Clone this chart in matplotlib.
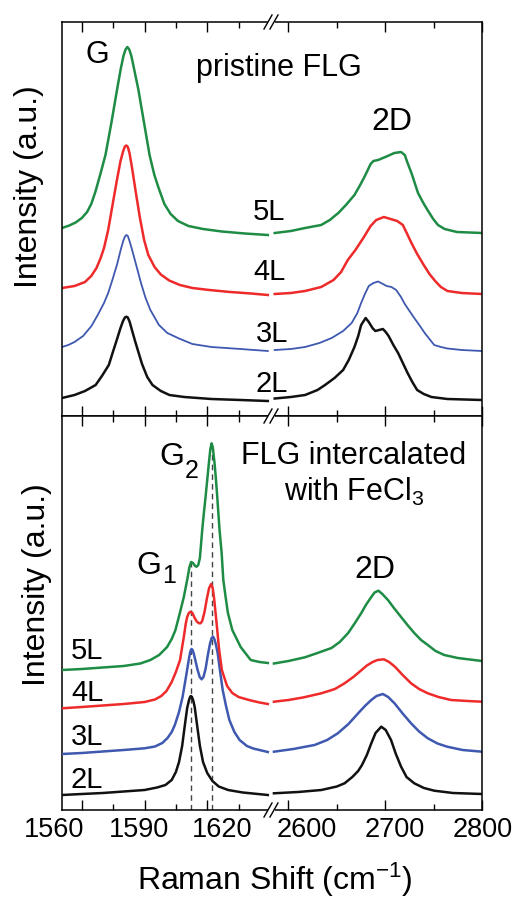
import matplotlib
matplotlib.use("Agg")
import matplotlib.pyplot as plt
from matplotlib.lines import Line2D
from matplotlib.patches import Rectangle
from matplotlib.transforms import ScaledTranslation

plt.rcParams["font.family"] = ["Liberation Sans", "DejaVu Sans"]
plt.rcParams["mathtext.fontset"] = "custom"
plt.rcParams["mathtext.rm"] = "Liberation Sans"
plt.rcParams["mathtext.it"] = "Liberation Sans:italic"

# ---- data (arbitrary intensity units) ----
LAYERS = ["2L", "3L", "4L", "5L"]
COLORS = ["#111111", "#3f58b0", "#ee2a2a", "#1e8c45"]

LEFT_TICKS = [1560, 1590, 1620]
LEFT_MINOR = [1575, 1605, 1635]
RIGHT_TICKS = [2600, 2700, 2800]
RIGHT_MINOR = [2650, 2750]

# pristine FLG, G band
PR_G_5L_X = [1550.5, 1554, 1557, 1560, 1562.5, 1564.5, 1566.6, 1569, 1571.3, 1574.2, 1576.9, 1578.6,
             1579.9, 1580.9, 1581.8, 1582.7, 1583.7, 1585, 1587, 1589.7, 1592.4, 1594.7, 1596.9, 1599.5,
             1602.5, 1606, 1611, 1618, 1627, 1638, 1649]
PR_G_5L_Y = [188, 190.5, 193.5, 198, 204, 212, 225, 243, 261, 294, 327, 347, 360, 366.5, 369, 366.5,
             360, 347, 327, 294, 261, 241, 227, 212, 202, 195, 190, 187, 184.5, 182.5, 181]
PR_G_4L_X = [1550.5, 1556.5, 1561.5, 1564.5, 1567, 1569, 1570.6, 1572.6, 1574.6, 1576.7, 1578.5, 1579.8,
             1580.6, 1581.3, 1582, 1582.8, 1583.8, 1585.8, 1587.8, 1589.8, 1591.8, 1594.8, 1597.8,
             1601.8, 1606.9, 1612.9, 1621, 1631, 1641, 1649]
PR_G_4L_Y = [128, 130, 134, 140, 148, 158, 168, 186, 210, 235, 255, 265, 269.5, 270.5, 269, 263, 251,
             224, 198, 176, 161, 149, 141.5, 135.5, 131, 128, 126, 124, 122.5, 121]
PR_G_3L_X = [1550.5, 1553.5, 1556.5, 1560.6, 1564.6, 1567.6, 1570.6, 1572.6, 1574.6, 1576.9, 1578.7,
             1579.8, 1580.6, 1581.3, 1582, 1582.8, 1583.8, 1586, 1588.3, 1590.5, 1592.8, 1596.9, 1600.9,
             1606.5, 1612.9, 1622, 1636, 1649]
PR_G_3L_Y = [69, 71, 74, 80, 90, 101, 113, 123, 136, 152, 167, 175, 179.5, 181, 180, 175, 168, 151, 133,
             118, 106, 91, 83, 77.5, 72, 69, 67, 65]
PR_G_2L_X = [1550.5, 1556.5, 1561.5, 1566.6, 1569.6, 1572.9, 1574.7, 1576.7, 1578.5, 1579.7, 1580.6,
             1581.3, 1582, 1582.9, 1584.1, 1585.6, 1588.8, 1591.3, 1593.8, 1597.8, 1601.9, 1609, 1622,
             1636, 1649]
PR_G_2L_Y = [18, 21, 25, 31, 40, 51, 63, 76, 88, 95, 98.5, 99.3, 98.5, 94, 85, 74, 52, 39, 31, 25, 21,
             19, 17, 16, 15]

# pristine FLG, 2D band
PR_2D_5L_X = [2585.8, 2602.5, 2617.2, 2633.8, 2642.7, 2651.5, 2659.4, 2668.2, 2674.1, 2679.0, 2684.9,
              2687.8, 2692.7, 2697.6, 2702.5, 2709.4, 2716.3, 2720.2, 2723.1, 2727.1, 2733.9, 2738.8,
              2743.7, 2749.6, 2754.5, 2761.4, 2774.1, 2800.0]
PR_2D_5L_Y = [183, 185, 188, 191, 196, 203, 211, 221, 231, 240, 252, 255, 256, 258, 260, 263, 264, 261,
              253, 243, 223, 214, 206, 197, 191, 187, 184, 183]
PR_2D_4L_X = [2585.8, 2602.5, 2617.2, 2633.8, 2646.6, 2654.4, 2661.3, 2669.2, 2678.0, 2684.9, 2690.7,
              2698.6, 2705.5, 2712.4, 2718.2, 2722.2, 2727.1, 2733.0, 2739.8, 2745.7, 2751.6, 2757.5,
              2764.3, 2779.0, 2800.0]
PR_2D_4L_Y = [122, 123, 125, 129, 136, 144, 156, 166, 179, 190, 196, 199, 197, 195, 191, 183, 173, 162,
              151, 142, 135, 129, 125, 123, 122]
PR_2D_3L_X = [2585.8, 2602.5, 2617.2, 2632.0, 2644.7, 2656.5, 2665.3, 2671.2, 2675.1, 2679.0, 2683.0,
              2687.8, 2692.7, 2697.6, 2701.5, 2706.4, 2711.3, 2716.3, 2720.2, 2725.1, 2730.0, 2735.9,
              2740.8, 2745.7, 2750.6, 2757.5, 2764.3, 2779.0, 2800.0]
PR_2D_3L_Y = [66, 67, 69, 73, 78, 85, 93, 103, 113, 122, 130, 133, 134.5, 132, 130, 129, 126, 119, 112,
              105, 98, 90, 83, 77, 71, 69, 67.5, 66, 65]
PR_2D_2L_X = [2585.8, 2602.5, 2617.2, 2630.0, 2637.8, 2647.6, 2656.5, 2662.3, 2668.2, 2672.1, 2675.1,
              2679.8, 2683.0, 2686.8, 2689.8, 2693.7, 2697.6, 2700.5, 2703.5, 2708.4, 2713.3, 2718.2,
              2723.1, 2728.0, 2733.0, 2739.8, 2747.7, 2764.3, 2800.0]
PR_2D_2L_Y = [17.5, 19, 21, 26, 31, 38, 46, 56, 69, 80, 91, 98, 94, 88, 85, 86, 87, 84, 80, 71, 63, 53,
              43, 34, 26, 22, 19, 17, 16]

# FeCl3 intercalated FLG, G1 / G2 bands
IN_G_5L_X = [1550.5, 1560, 1570, 1580, 1588, 1592.8, 1597, 1600.8, 1603, 1604.8, 1606.9, 1608.8, 1610.4,
             1611.5, 1612.3, 1613.2, 1614.2, 1614.9, 1615.7, 1616.5, 1617.6, 1618.4, 1619.2, 1620,
             1620.8, 1621.5, 1622.1, 1622.7, 1623.5, 1624.2, 1624.8, 1625.9, 1626.9, 1627.7, 1628.8,
             1629.9, 1632, 1636, 1640.8, 1645, 1649]
IN_G_5L_Y = [140, 141, 142.5, 144, 146.5, 150, 155, 163, 171, 180, 197, 213, 230, 243, 248, 247, 244,
             243.3, 245, 252, 280, 297, 313, 330, 347, 361, 366.7, 362, 347, 330, 313, 280, 257, 230, 213,
             197, 180, 163, 150, 148, 147]
IN_G_4L_X = [1550.5, 1560, 1570, 1580, 1590, 1595, 1598, 1600.5, 1603, 1605, 1607, 1608, 1608.8, 1609.7,
             1610.4, 1611.2, 1612, 1612.9, 1614, 1615, 1616, 1616.8, 1617.6, 1618.7, 1619.8, 1620.9,
             1621.9, 1622.6, 1623.2, 1624, 1624.8, 1625.6, 1627, 1629.5, 1632, 1635, 1640, 1645, 1649]
IN_G_4L_Y = [101.7, 103, 104.5, 106, 108, 110.5, 114, 119, 128, 138, 150, 163, 173, 186, 193, 197,
             198.3, 197, 192, 188.5, 186.8, 186.7, 189, 198, 211, 222, 226, 222, 213.3, 197, 180, 162,
             140, 124, 117, 113, 110, 107.5, 106]
IN_G_3L_X = [1550.5, 1560, 1570, 1580, 1590, 1595, 1598.5, 1601, 1603, 1604.5, 1606.5, 1608.2, 1609.5,
             1610.6, 1611.4, 1612, 1612.5, 1613, 1613.6, 1614.4, 1615.4, 1616.4, 1617.3, 1618.2, 1619.2,
             1620.3, 1621.3, 1622.1, 1622.8, 1623.5, 1624.2, 1625, 1626.2, 1627.4, 1629, 1630.6, 1633,
             1635.5, 1639, 1642, 1649]
IN_G_3L_Y = [56, 57, 58.5, 60, 61.7, 63.5, 67, 72, 78, 85, 98, 113, 129, 143, 153, 159, 161, 160, 156,
             149, 140, 133, 130.7, 133, 141, 155, 166, 172, 173.3, 170.5, 165, 157, 138, 120, 104, 90,
             78, 70, 64, 61.5, 58]
IN_G_2L_X = [1550.5, 1560, 1570, 1580, 1590, 1596, 1600, 1603, 1605, 1606.5, 1608, 1609.3, 1610.4,
             1611.3, 1611.8, 1612.2, 1612.7, 1613.3, 1614, 1615.2, 1616.5, 1618, 1620, 1622.5, 1625.5,
             1630, 1637, 1649]
IN_G_2L_Y = [15, 16, 17, 18.5, 20, 22.5, 25, 30, 38, 48, 64, 85, 102, 110, 113, 114, 113, 109.5, 103, 84,
             64, 48, 37, 29, 23.5, 20, 17.5, 15]

# FeCl3 intercalated FLG, 2D band
IN_2D_5L_X = [2585, 2600, 2617, 2630, 2644.5, 2653, 2661.7, 2668, 2675.3, 2680, 2685.6, 2689, 2693,
              2697, 2702.8, 2709, 2716.4, 2723, 2730, 2737, 2744, 2752, 2761, 2775, 2800]
IN_2D_5L_Y = [146.5, 149, 152.7, 157, 162, 168, 177, 186, 197, 205, 213, 217.5, 219.3, 216, 210, 202,
              193, 185, 177, 170, 165, 159, 155, 152, 149]
IN_2D_4L_X = [2585, 2600, 2615, 2634, 2648, 2658, 2667, 2675, 2681, 2687, 2692, 2698.6, 2704, 2710,
              2718, 2726.7, 2735, 2744, 2755, 2768, 2785, 2800]
IN_2D_4L_Y = [108.3, 110, 112.5, 116.7, 121, 126.7, 133, 139.5, 144.5, 148, 150, 150.7, 148, 143.3, 135,
              126.7, 121, 116.7, 113, 110, 109, 108.3]
IN_2D_3L_X = [2585, 2605, 2627, 2640, 2651, 2662, 2672, 2679, 2685.6, 2691, 2697.6, 2703, 2709.6, 2718,
              2726.7, 2735, 2744, 2754, 2764, 2780, 2800]
IN_2D_3L_Y = [58.3, 61, 65, 70, 76.7, 86, 96.7, 104, 110, 114, 116, 113, 106.7, 96.5, 86.7, 78.5, 71.7,
              66.5, 63.3, 60, 58.3]
IN_2D_2L_X = [2585, 2610, 2634, 2650, 2658, 2666, 2672, 2676, 2681, 2685.6, 2690, 2695.9, 2700.5, 2706,
              2711, 2716.4, 2722, 2730, 2740, 2750.7, 2770, 2800]
IN_2D_2L_Y = [16.7, 18, 20, 23.5, 26.7, 33, 39, 45, 55, 66.7, 77, 83.3, 80, 70, 56, 43.3, 33, 26.7, 22,
              19.3, 17, 16]

G1_POS, G1_TOP = 1612.1, 247
G2_POS, G2_TOP = 1622.1, 366

LEFT_LABEL_SHIFT = [-27.7, -5.3, 15.3]     # px, tick labels are not centred on ticks
RIGHT_LABEL_SHIFT = [18.3, 10.0, 0.5]

# ---- figure ----
W, H = 519, 900
fig = plt.figure(figsize=(W / 100, H / 100), dpi=100)


def fx(px):
    return px / W


def fy(py):
    return 1 - py / H


X0, XM, X1 = 62, 272, 482
panels = {}
for name, top, bot in (("pr", 22, 416), ("in", 416, 810)):
    axl = fig.add_axes([fx(X0), fy(bot), (XM - X0) / W, (bot - top) / H])
    axr = fig.add_axes([fx(XM), fy(bot), (X1 - XM) / W, (bot - top) / H])
    axl.set_xlim(1550.5, 1651)
    axr.set_xlim(2583, 2800)
    for ax in (axl, axr):
        ax.set_ylim(0, 394)
        ax.set_yticks([])
        for s in ax.spines.values():
            s.set_linewidth(1.1)
        ax.tick_params(axis="x", which="both", direction="in", top=True, bottom=True, width=1.0,
                       labelsize=19.5, pad=5)
        ax.tick_params(axis="x", which="major", length=7)
        ax.tick_params(axis="x", which="minor", length=4)
    axl.spines["right"].set_visible(False)
    axr.spines["left"].set_visible(False)
    axl.set_xticks(LEFT_TICKS)
    axl.set_xticks(LEFT_MINOR, minor=True)
    axr.set_xticks(RIGHT_TICKS)
    axr.set_xticks(RIGHT_MINOR, minor=True)
    panels[name] = (axl, axr)

ax_tl, ax_tr = panels["pr"]
ax_bl, ax_br = panels["in"]
ax_tl.tick_params(labelbottom=False)
ax_tr.tick_params(labelbottom=False)

pr_left = [(PR_G_2L_X, PR_G_2L_Y), (PR_G_3L_X, PR_G_3L_Y), (PR_G_4L_X, PR_G_4L_Y), (PR_G_5L_X, PR_G_5L_Y)]
pr_right = [(PR_2D_2L_X, PR_2D_2L_Y), (PR_2D_3L_X, PR_2D_3L_Y), (PR_2D_4L_X, PR_2D_4L_Y),
            (PR_2D_5L_X, PR_2D_5L_Y)]
in_left = [(IN_G_2L_X, IN_G_2L_Y), (IN_G_3L_X, IN_G_3L_Y), (IN_G_4L_X, IN_G_4L_Y), (IN_G_5L_X, IN_G_5L_Y)]
in_right = [(IN_2D_2L_X, IN_2D_2L_Y), (IN_2D_3L_X, IN_2D_3L_Y), (IN_2D_4L_X, IN_2D_4L_Y),
            (IN_2D_5L_X, IN_2D_5L_Y)]

for i, c in enumerate(COLORS):
    lw_top = 1.3 if i == 1 else 1.8
    ax_tl.plot(*pr_left[i], color=c, lw=lw_top, solid_joinstyle="round")
    ax_tr.plot(*pr_right[i], color=c, lw=lw_top, solid_joinstyle="round")
    ax_bl.plot(*in_left[i], color=c, lw=1.8, solid_joinstyle="round", zorder=3)
    ax_br.plot(*in_right[i], color=c, lw=1.8, solid_joinstyle="round")

ax_bl.vlines([G1_POS, G2_POS], 0, [G1_TOP, G2_TOP], colors="#444444", linestyles=(0, (4, 3)),
             lw=1.0, zorder=2)

# tick labels sit off the ticks in the original
for lab, dx in zip(ax_bl.get_xticklabels(), LEFT_LABEL_SHIFT):
    lab.set_transform(lab.get_transform() + ScaledTranslation(dx / 100, 0, fig.dpi_scale_trans))
for lab, dx in zip(ax_br.get_xticklabels(), RIGHT_LABEL_SHIFT):
    lab.set_transform(lab.get_transform() + ScaledTranslation(dx / 100, 0, fig.dpi_scale_trans))

# axis break marks
for py in (22, 416, 810):
    fig.add_artist(Rectangle((fx(267.5), fy(py + 2.5)), 7 / W, 5 / H, transform=fig.transFigure,
                             facecolor="white", edgecolor="none", zorder=5))
    for dx in (0, 6):
        fig.add_artist(Line2D([fx(264 + dx), fx(272 + dx)], [fy(py + 7), fy(py - 7)],
                              transform=fig.transFigure, color="black", lw=1.0, zorder=6))

# texts
txt = dict(va="baseline", color="black")
fig.text(fx(97.5), fy(63), "G", ha="center", fontsize=22, **txt)
fig.text(fx(279), fy(76), "pristine FLG", ha="center", fontsize=22, **txt)
fig.text(fx(391.5), fy(130), "2D", ha="center", fontsize=23, **txt)
for lab, px, py in zip(LAYERS, [272, 272, 270, 269], [391.7, 341.7, 280, 220]):
    fig.text(fx(px), fy(py), lab, ha="center", fontsize=21, **txt)

fig.text(fx(159), fy(465), "G", ha="left", fontsize=23, **txt)
fig.text(fx(184.5), fy(478), "2", ha="left", fontsize=18, **txt)
fig.text(fx(136.5), fy(574), "G", ha="left", fontsize=23, **txt)
fig.text(fx(162), fy(583), "1", ha="left", fontsize=18, **txt)
fig.text(fx(354), fy(464.3), "FLG intercalated", ha="center", fontsize=22, **txt)
fig.text(fx(354), fy(501), r"with FeCl$_\mathregular{3}$", ha="center", fontsize=22, **txt)
fig.text(fx(375), fy(577.7), "2D", ha="center", fontsize=23, **txt)
for lab, py in zip(LAYERS, [788.3, 745, 701, 659.3]):
    fig.text(fx(71), fy(py), lab, ha="left", fontsize=21, **txt)

fig.text(fx(29), fy(187), "Intensity (a.u.)", rotation=90, ha="center", va="center", fontsize=23)
fig.text(fx(37.5), fy(585), "Intensity (a.u.)", rotation=90, ha="center", va="center", fontsize=23)
fig.text(fx(275), fy(890), r"Raman Shift (cm$^\mathregular{-1}$)", ha="center", fontsize=23, **txt)

fig.savefig("out.png", dpi=100)
